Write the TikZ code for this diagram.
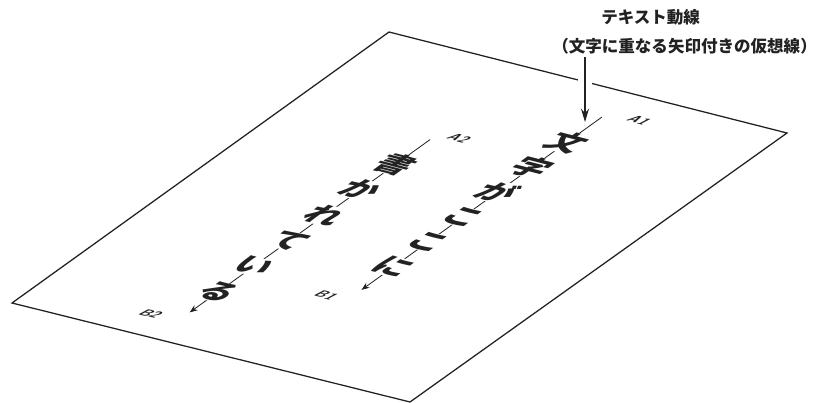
\documentclass[tikz,border=0pt]{standalone}
\usepackage{fontspec}
\setmainfont{Liberation Sans}
\newfontfamily\jpfont{Noto Sans CJK JP}
\usetikzlibrary{arrows.meta}
\definecolor{ink}{HTML}{222222}
\begin{document}
\begin{tikzpicture}[x=0.75pt,y=-0.75pt,
  pageedge/.style={draw=ink, line width=0.95pt, line join=miter},
  titletext/.style={anchor=west, inner sep=0pt, text=ink, font=\jpfont\bfseries\fontsize{12.4}{14}\selectfont},
  pointer/.style={draw=ink, line width=0.8pt, -{Stealth[length=10pt,width=6pt]}},
  halo/.style={draw=white, line width=10pt},
  textline/.style={draw=ink, line width=0.6pt, -{Stealth[length=6pt,width=4.5pt]}},
  chr/.style={fill=white, inner sep=0.3pt, text=ink, font=\jpfont\bfseries\fontsize{24}{24}\selectfont},
  lab/.style={inner sep=0pt, text=ink, font=\sffamily\bfseries\itshape\fontsize{10.5}{11}\selectfont}]
\useasboundingbox (0,0) rectangle (818,403);
\fill[white] (0,0) rectangle (818,403);
% page
\coordinate (T) at (389,32);
\coordinate (R) at (787,133);
\coordinate (B) at (410,402);
\coordinate (L) at (12,303);
\draw[pageedge] (T) -- (R) -- (B) -- (L) -- cycle;
% title
\node[titletext] (t1) at (601,17) {テキスト動線};
\node[titletext] (t2) at (552,46) {（文字に重なる矢印付きの仮想線）};
\coordinate (ah) at (585,122);
\coordinate (hs) at (585,70);
\coordinate (he) at (585,94);
\draw[halo] (hs) -- (he);
\draw[pointer] (t2.south -| ah) ++(0,3) -- (ah);
% text on the page
\begin{scope}[shift={(602,117)}, cm={0.968,-0.248,0.8125,0.584,(0,0)}, transform shape]
  \coordinate (a1) at (0,0);
  \coordinate (b1) at (0,296);
  \coordinate (a2) at (-107,84);
  \coordinate (b2) at (-107,380);
  \draw[textline] (a1) -- (b1);
  \draw[textline] (a2) -- (b2);
  \foreach \c [count=\i] in {文,字,が,こ,こ,に}
    \node[chr] (ca\i) at (0,{43+42.7*(\i-1)}) {\c};
  \foreach \c [count=\i] in {書,か,れ,て,い,る}
    \node[chr] (cb\i) at (-107,{126+43.8*(\i-1)}) {\c};
  \node[lab] (A1) at (31,-8) {A1};
  \node[lab] (A2) at (-87,73) {A2};
  \node[lab] (B1) at (-22,314) {B1};
  \node[lab] (B2) at (-136,394) {B2};
\end{scope}
\end{tikzpicture}
\end{document}
